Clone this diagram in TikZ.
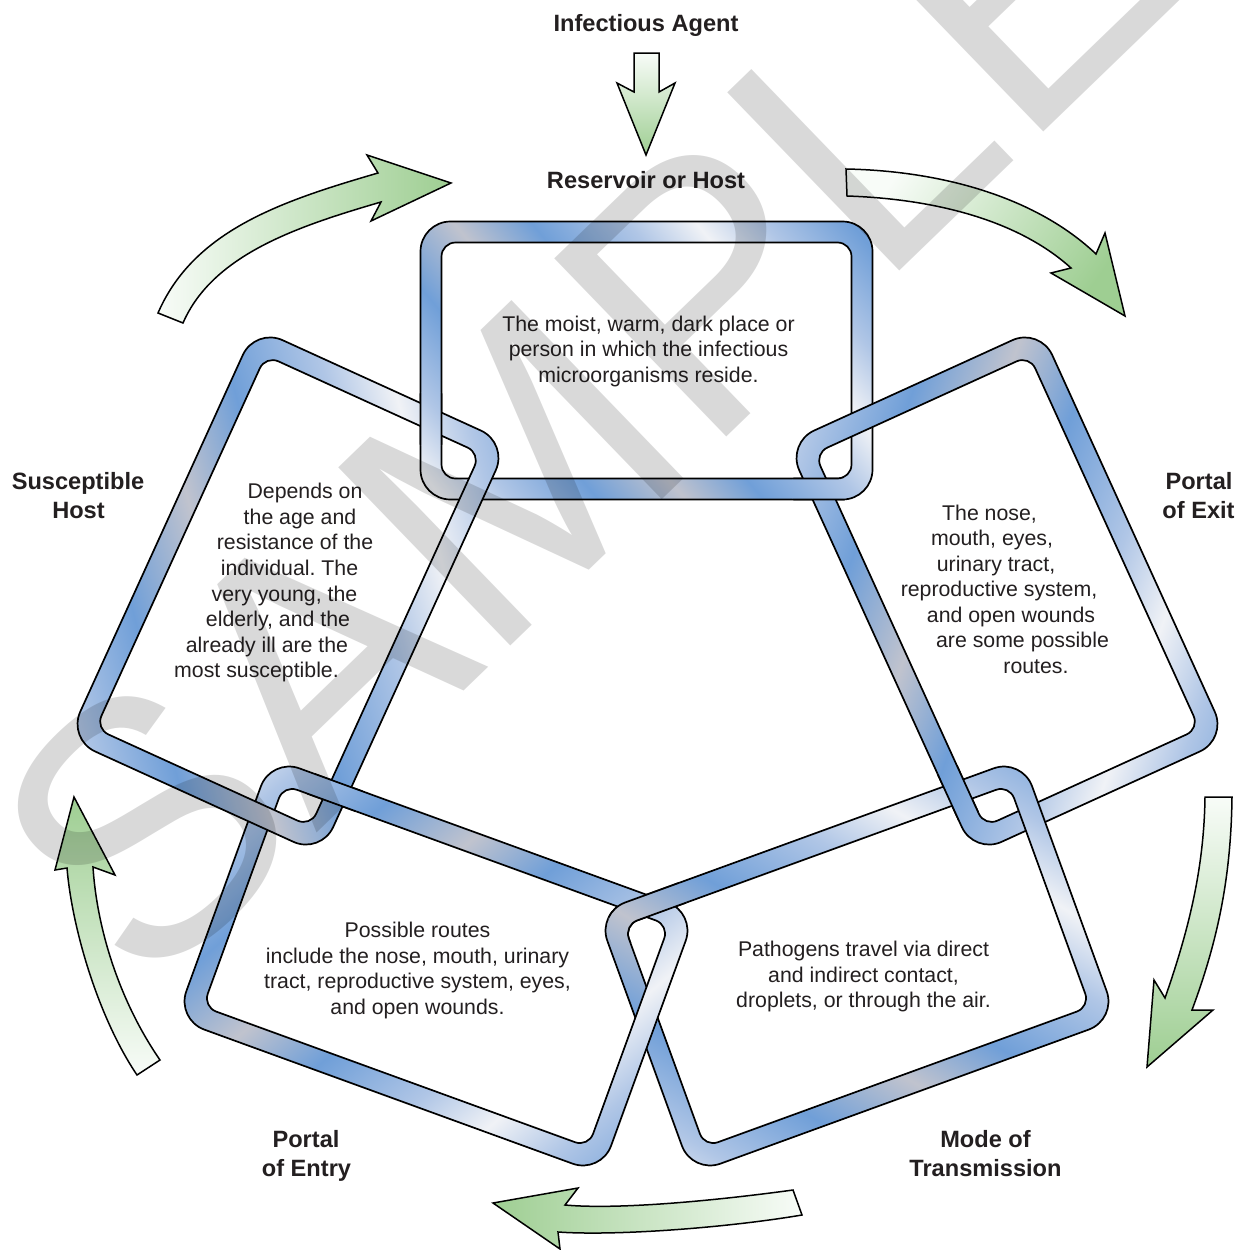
\documentclass[tikz,border=0pt]{standalone}
\usepackage{fontspec}
\setmainfont{Liberation Sans}
\definecolor{cb}{RGB}{112,159,216}
\definecolor{cl}{RGB}{176,198,230}
\definecolor{cw}{RGB}{240,242,246}
\definecolor{cg}{RGB}{192,195,206}
\definecolor{agreen}{RGB}{158,206,146}
\definecolor{awhite}{RGB}{248,252,248}
\definecolor{txt}{RGB}{35,31,32}
\pgfdeclarehorizontalshading{chainshade}{100bp}{color(0bp)=(cb); color(10bp)=(cl); color(17bp)=(cw); color(24bp)=(cl); color(33bp)=(cb); color(42bp)=(cg); color(50bp)=(cb); color(60bp)=(cl); color(67bp)=(cw); color(74bp)=(cl); color(83bp)=(cb); color(92bp)=(cg); color(100bp)=(cb)}
\tikzset{
  linkline/.style={draw=black, line width=1.7},
  arrowline/.style={draw=black, line width=1.5, line join=miter},
  bodytext/.style={anchor=base, text=txt, inner sep=0, font=\fontsize{21.3}{25.6}\selectfont},
  labeltext/.style={anchor=base, text=txt, inner sep=0, font=\bfseries\fontsize{23.6}{29}\selectfont},
}
\newcommand{\chainlink}[4]{%
  \begin{scope}[shift={(#1,#2)}, rotate=#3]
    \shade[even odd rule, shading=chainshade, shading angle=#4]
      [rounded corners=30] (-226,-139) rectangle (226,139)
      [rounded corners=14] (-205,-118) rectangle (205,118);
    \draw[linkline, rounded corners=30] (-226,-139) rectangle (226,139);
    \draw[linkline, rounded corners=14] (-205,-118) rectangle (205,118);
  \end{scope}}
\newcommand{\linkT}{\chainlink{646.5}{360.5}{0}{40}}
\newcommand{\linkR}{\chainlink{1007}{591}{-65.5}{-20}}
\newcommand{\linkBR}{\chainlink{857}{966}{20}{60}}
\newcommand{\linkBL}{\chainlink{436}{966}{-20}{-50}}
\newcommand{\linkL}{\chainlink{288}{591}{65.5}{15}}
\newcommand{\fixat}[4]{\begin{scope}\clip (#1,#2) circle (#3); #4\end{scope}}
\frenchspacing
\begin{document}
\begin{tikzpicture}[x=1pt, y=-1pt]
\useasboundingbox (0,0) rectangle (1235,1250);
\clip (0,0) rectangle (1235,1250);
\fill[white] (0,0) rectangle (1235,1250);

% green arrows
\draw[arrowline, top color=awhite, bottom color=agreen]
  (634,53) -- (659,53) -- (659,92) -- (675,83) -- (646,155) -- (617,83) -- (634,92) -- cycle;
\draw[arrowline, left color=awhite, right color=agreen]
  (158,313) .. controls (194,230) and (282,201) .. (378,173) -- (367,155) -- (451,183)
  -- (371,221) -- (381,202) .. controls (299,226) and (213,254) .. (183,323) -- cycle;
\draw[arrowline, top color=agreen, bottom color=awhite, shading angle=-125]
  (846,169) .. controls (946,171) and (1038,199) .. (1096,254) -- (1105,233) -- (1125,316)
  -- (1051,273) -- (1071,268) .. controls (1019,221) and (937,199) .. (847,196) -- cycle;
\draw[arrowline, top color=awhite, bottom color=agreen]
  (1232,797) .. controls (1231,877) and (1218,940) .. (1192,1010) -- (1213,1010) -- (1147,1067)
  -- (1154,980) -- (1165,998) .. controls (1188,932) and (1204,870) .. (1205,797) -- cycle;
\draw[arrowline, left color=agreen, right color=awhite]
  (793,1190) .. controls (720,1200) and (620,1210) .. (565,1205) -- (578,1188) -- (493,1203)
  -- (560,1249) -- (558,1232) .. controls (615,1236) and (725,1228) .. (802,1215) -- cycle;
\draw[arrowline, top color=agreen, bottom color=awhite]
  (137,1075) .. controls (98,1017) and (72,928) .. (67,868) -- (55,870) -- (74,797)
  -- (115,875) -- (93,867) .. controls (97,930) and (120,1002) .. (160,1060) -- cycle;

% chain links
\linkT
\linkR
\linkBR
\linkBL
\linkL
% over/under corrections
\fixat{431}{419}{28}{\linkT}
\fixat{819}{489}{28}{\linkT}
\fixat{958}{793}{28}{\linkR}
\fixat{646.5}{906}{40}{\linkBR}
\fixat{335}{793}{28}{\linkBL}

% labels
\node[labeltext] (agent) at (646,31.7) {Infectious Agent};
\node[labeltext] (reservoir) at (646,188.3) {Reservoir or Host};
\node[labeltext] (exit1) at (1199,489.5) {Portal};
\node[labeltext] (exit2) at (1198.5,518.5) {of Exit};
\node[labeltext] (host1) at (78,489.5) {Susceptible};
\node[labeltext] (host2) at (78.5,518.5) {Host};
\node[labeltext] (entry1) at (306,1147.5) {Portal};
\node[labeltext] (entry2) at (306.5,1176.5) {of Entry};
\node[labeltext] (mode1) at (985.5,1147.5) {Mode of};
\node[labeltext] (mode2) at (985.5,1176.5) {Transmission};

% body texts
\node[bodytext] (t1) at (648.5,331) {The moist, warm, dark place or};
\node[bodytext] (t2) at (648.5,356.5) {person in which the infectious};
\node[bodytext] (t3) at (648.5,382) {microorganisms reside.};

\node[bodytext] (r1) at (989.5,520.5) {The nose,};
\node[bodytext] (r2) at (992,545.5) {mouth, eyes,};
\node[bodytext] (r3) at (996,571.5) {urinary tract,};
\node[bodytext] (r4) at (999,596.5) {reproductive system,};
\node[bodytext] (r5) at (1011,622.5) {and open wounds};
\node[bodytext] (r6) at (1022.5,647.5) {are some possible};
\node[bodytext] (r7) at (1036,673.5) {routes.};

\node[bodytext] (l1) at (305,498.5) {Depends on};
\node[bodytext] (l2) at (300,524.5) {the age and};
\node[bodytext] (l3) at (295,549.5) {resistance of the};
\node[bodytext] (l4) at (289.5,575.5) {individual. The};
\node[bodytext] (l5) at (284.5,601.5) {very young, the};
\node[bodytext] (l6) at (278,626.5) {elderly, and the};
\node[bodytext] (l7) at (267,652.5) {already ill are the};
\node[bodytext] (l8) at (256.5,677.5) {most susceptible.};

\node[bodytext] (bl1) at (417.5,937.5) {Possible routes};
\node[bodytext] (bl2) at (417.5,963.5) {include the nose, mouth, urinary};
\node[bodytext] (bl3) at (417.5,988.5) {tract, reproductive system, eyes,};
\node[bodytext] (bl4) at (417.5,1014.5) {and open wounds.};

\node[bodytext] (br1) at (863.5,956.5) {Pathogens travel via direct};
\node[bodytext] (br2) at (863.5,982.5) {and indirect contact,};
\node[bodytext] (br3) at (863.5,1007.5) {droplets, or through the air.};

% watermark
\node[anchor=base west, rotate=44, inner sep=0, text=black, text opacity=0.15,
      font=\fontsize{360}{360}\selectfont] (wm) at (144,1000) {SAMPLE};
\end{tikzpicture}
\end{document}
